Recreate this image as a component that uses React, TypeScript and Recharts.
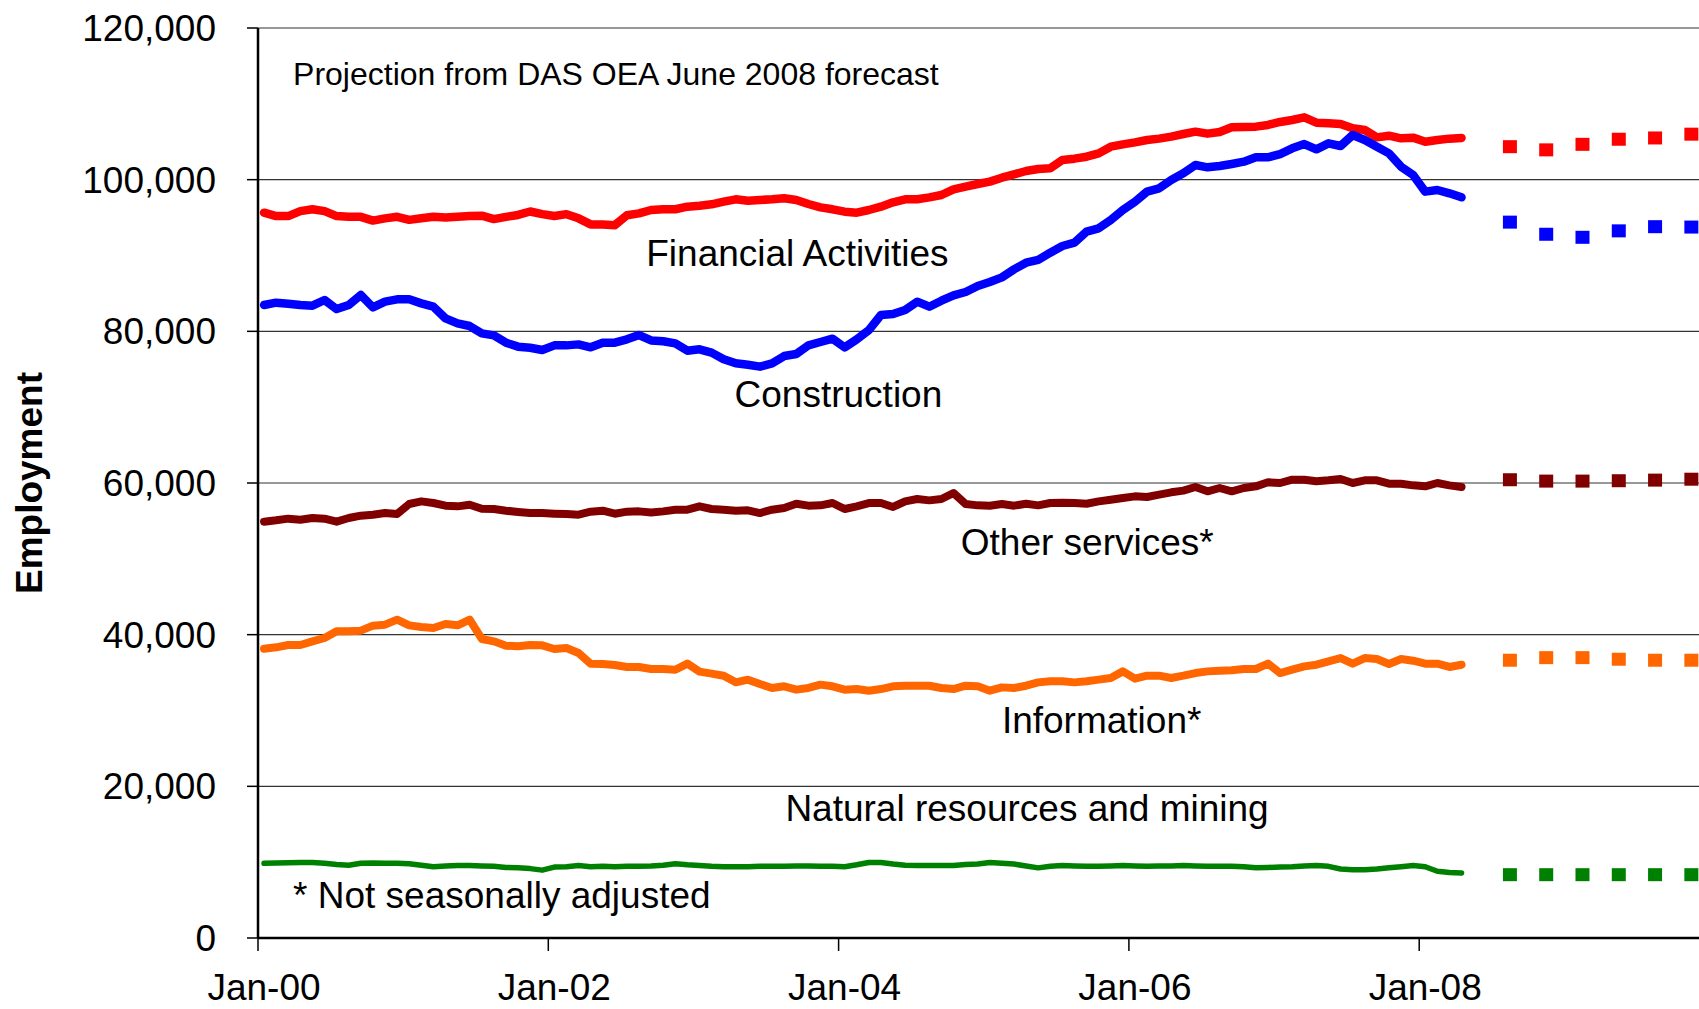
import { LineChart, Line, XAxis, YAxis, CartesianGrid, ReferenceDot } from "recharts";

const FONT = '"Liberation Sans", Arial, Helvetica, sans-serif';

// monthly employment, Jan-00 .. Apr-08
const financial = [
  95650, 95200, 95200, 95850, 96100, 95850, 95200, 95100, 95100, 94600,
  94900, 95100, 94700, 94900, 95100, 95000, 95100, 95200, 95250, 94800,
  95100, 95350, 95800, 95450, 95200, 95450, 94900, 94100, 94100, 94000,
  95300, 95550, 96000, 96100, 96100, 96440, 96570, 96750, 97100, 97410,
  97230, 97320, 97410, 97540, 97320, 96790, 96350, 96090, 95780, 95650,
  96000, 96440, 97010, 97410, 97410, 97670, 97980, 98730, 99080, 99430,
  99740, 100260, 100700, 101140, 101410, 101490, 102590, 102770, 103030, 103470,
  104350, 104660, 104920, 105230, 105410, 105670, 106020, 106330, 106070, 106290,
  106900, 106950, 106990, 107210, 107610, 107870, 108220, 107520, 107430, 107340,
  106770, 106550, 105580, 105800, 105450, 105540, 105010, 105230, 105410, 105500,
];

const construction = [
  83470, 83780, 83650, 83470, 83380, 84130, 82940, 83470, 84790, 83160,
  83910, 84220, 84220, 83690, 83250, 81710, 81050, 80700, 79730, 79470,
  78500, 77980, 77840, 77540, 78150, 78150, 78280, 77890, 78500, 78500,
  78940, 79510, 78800, 78700, 78420, 77450, 77630, 77190, 76310, 75780,
  75600, 75340, 75780, 76740, 77010, 78150, 78590, 79030, 77890, 78940,
  80170, 82150, 82280, 82810, 83910, 83250, 84040, 84750, 85190, 85980,
  86500, 87120, 88170, 89050, 89410, 90370, 91250, 91690, 93140, 93580,
  94680, 96000, 97100, 98420, 98860, 99960, 100840, 101930, 101630, 101800,
  102070, 102370, 102950, 102950, 103380, 104130, 104700, 104000, 104790, 104440,
  105890, 105230, 104350, 103470, 101710, 100620, 98420, 98640, 98200, 97670,
];

const otherServices = [
  54900, 55080, 55300, 55160, 55380, 55300, 54900, 55380, 55690, 55820,
  56040, 55910, 57230, 57580, 57360, 57010, 56920, 57140, 56610, 56570,
  56350, 56180, 56040, 56040, 55960, 55910, 55820, 56220, 56350, 55950,
  56220, 56260, 56100, 56260, 56480, 56480, 56920, 56570, 56480, 56350,
  56400, 56040, 56480, 56700, 57270, 57010, 57050, 57360, 56570, 56920,
  57360, 57360, 56840, 57580, 57890, 57710, 57890, 58680, 57230, 57050,
  57010, 57230, 57010, 57270, 57050, 57360, 57400, 57360, 57270, 57580,
  57800, 58020, 58240, 58150, 58460, 58770, 58990, 59470, 58900, 59340,
  58900, 59340, 59560, 60090, 60000, 60440, 60440, 60220, 60350, 60530,
  60000, 60350, 60350, 59910, 59910, 59690, 59560, 60000, 59690, 59470,
];

const information = [
  38150, 38330, 38640, 38640, 39120, 39560, 40440, 40440, 40530, 41190,
  41320, 41980, 41230, 41010, 40880, 41410, 41230, 41980, 39430, 39120,
  38550, 38460, 38640, 38590, 38110, 38240, 37580, 36180, 36130, 36000,
  35740, 35740, 35470, 35470, 35380, 36180, 35120, 34860, 34590, 33710,
  34070, 33490, 32970, 33190, 32750, 32970, 33410, 33190, 32750, 32830,
  32610, 32830, 33190, 33270, 33270, 33270, 32970, 32830, 33270, 33190,
  32610, 33050, 32970, 33270, 33710, 33850, 33850, 33710, 33850, 34070,
  34290, 35160, 34200, 34590, 34590, 34290, 34590, 34940, 35160, 35250,
  35300, 35470, 35470, 36180, 34940, 35380, 35820, 36040, 36480, 36920,
  36180, 36920, 36790, 36130, 36790, 36570, 36180, 36180, 35740, 36040,
];

const naturalResources = [
  9850, 9900, 9920, 9950, 9950, 9850, 9700, 9600, 9850, 9900,
  9850, 9850, 9800, 9600, 9400, 9500, 9550, 9550, 9500, 9450,
  9300, 9250, 9150, 8950, 9350, 9400, 9550, 9400, 9450, 9400,
  9450, 9450, 9500, 9600, 9800, 9650, 9550, 9450, 9400, 9400,
  9400, 9450, 9450, 9450, 9500, 9500, 9450, 9450, 9400, 9650,
  9950, 9950, 9750, 9600, 9550, 9550, 9550, 9550, 9700, 9750,
  9950, 9850, 9750, 9500, 9250, 9450, 9550, 9500, 9450, 9450,
  9500, 9550, 9500, 9450, 9500, 9500, 9550, 9500, 9450, 9450,
  9450, 9400, 9250, 9300, 9350, 9400, 9500, 9550, 9450, 9100,
  9000, 9000, 9100, 9250, 9400, 9550, 9400, 8800, 8650, 8580,
];

// quarterly projection (mid-quarter months, counted from Jan-00)
const forecastMonths = [103, 106, 109, 112, 115, 118];
const financialF = [104350, 103930, 104660, 105330, 105500, 106000];
const constructionF = [94400, 92800, 92400, 93250, 93800, 93750];
const otherServicesF = [60430, 60250, 60250, 60300, 60380, 60500];
const informationF = [36630, 36970, 36970, 36760, 36630, 36630];
const naturalResourcesF = [8350, 8350, 8350, 8350, 8350, 8350];

const xTicks = [0, 24, 48, 72, 96];
const xTickLabels = ["Jan-00", "Jan-02", "Jan-04", "Jan-06", "Jan-08"];
const yTicks = [0, 20000, 40000, 60000, 80000, 100000, 120000];

const series = [
  { key: "fin", actual: financial, forecast: financialF, color: "#FF0000", width: 8.5 },
  { key: "con", actual: construction, forecast: constructionF, color: "#0000FF", width: 8.5 },
  { key: "oth", actual: otherServices, forecast: otherServicesF, color: "#800000", width: 8 },
  { key: "inf", actual: information, forecast: informationF, color: "#FF6600", width: 8 },
  { key: "nat", actual: naturalResources, forecast: naturalResourcesF, color: "#008000", width: 5.5 },
];

const notes = [
  { text: "Projection from DAS OEA June 2008 forecast", x: 2.9, y: 114000, size: 32 },
  { text: "Financial Activities", x: 32.1, y: 90300, size: 37 },
  { text: "Construction", x: 39.4, y: 71700, size: 37 },
  { text: "Other services*", x: 58.1, y: 52300, size: 37 },
  { text: "Information*", x: 61.5, y: 28750, size: 37 },
  { text: "Natural resources and mining", x: 43.6, y: 17200, size: 37 },
  { text: "* Not seasonally adjusted", x: 2.9, y: 5750, size: 37 },
];

const actualRows = financial.map((_, i) => {
  const row: Record<string, number> = { x: i + 0.5 };
  series.forEach((s) => (row[s.key] = s.actual[i]));
  return row;
});

const forecastRows = forecastMonths.map((m, k) => {
  const row: Record<string, number> = { x: m + 0.5 };
  series.forEach((s) => (row[s.key] = s.forecast[k]));
  return row;
});

const squareDot = (color: string) => (props: any) => {
  const { cx, cy, index } = props;
  if (cx == null || cy == null) return <g key={index} />;
  return <rect key={index} x={cx - 7} y={cy - 6.5} width={14} height={13} fill={color} />;
};

const MonthTick = ({ x, y, payload }: any) => {
  const idx = xTicks.indexOf(payload.value);
  return (
    <text x={x + 6} y={y} dy="0.71em" textAnchor="middle" fontSize={37} fontFamily={FONT} fill="#000">
      {xTickLabels[idx]}
    </text>
  );
};

const YTitle = ({ viewBox }: any) => {
  const cx = viewBox.x + 42;
  const cy = viewBox.y + viewBox.height / 2;
  return (
    <text
      x={cx}
      y={cy}
      transform={`rotate(-90, ${cx}, ${cy})`}
      textAnchor="middle"
      fontSize={37}
      fontWeight="bold"
      fontFamily={FONT}
      fill="#000"
    >
      Employment
    </text>
  );
};

export default function App() {
  return (
    <div
      style={{
        position: "fixed",
        top: 0,
        left: 0,
        width: 1699,
        height: 1009,
        overflow: "hidden",
        background: "#fff",
      }}
    >
      <LineChart
        width={1720}
        height={1009}
        data={actualRows}
        margin={{ top: 28, right: 10.5, bottom: 0, left: 0 }}
        style={{ fontFamily: FONT }}
      >
        <CartesianGrid vertical={false} stroke="#333" strokeWidth={1.2} />
        <XAxis
          type="number"
          dataKey="x"
          domain={[0, 120]}
          ticks={xTicks}
          tick={<MonthTick />}
          height={71}
          tickSize={13}
          tickMargin={23}
          axisLine={{ stroke: "#000", strokeWidth: 2.5 }}
          tickLine={{ stroke: "#000", strokeWidth: 1.5 }}
          allowDataOverflow
        />
        <YAxis
          type="number"
          domain={[0, 120000]}
          ticks={yTicks}
          width={258}
          tickSize={11}
          tickMargin={31}
          tickFormatter={(v: number) => v.toLocaleString("en-US")}
          tick={{ fontSize: 37, fill: "#000", fontFamily: FONT }}
          axisLine={{ stroke: "#000", strokeWidth: 2.5 }}
          tickLine={{ stroke: "#000", strokeWidth: 1.5 }}
          label={{ content: <YTitle /> }}
        />
        {series.map((s) => (
          <Line
            key={s.key}
            type="linear"
            dataKey={s.key}
            stroke={s.color}
            strokeWidth={s.width}
            strokeLinejoin="round"
            strokeLinecap="round"
            dot={false}
            activeDot={false}
            isAnimationActive={false}
          />
        ))}
        {series.map((s) => (
          <Line
            key={s.key + "F"}
            data={forecastRows}
            type="linear"
            dataKey={s.key}
            stroke="none"
            dot={squareDot(s.color)}
            activeDot={false}
            isAnimationActive={false}
          />
        ))}
        {notes.map((n) => (
          <ReferenceDot
            key={n.text}
            x={n.x}
            y={n.y}
            r={0}
            fill="none"
            stroke="none"
            label={{
              value: n.text,
              position: "right",
              offset: 0,
              fontSize: n.size,
              fill: "#000",
              fontFamily: FONT,
            }}
          />
        ))}
      </LineChart>
    </div>
  );
}
